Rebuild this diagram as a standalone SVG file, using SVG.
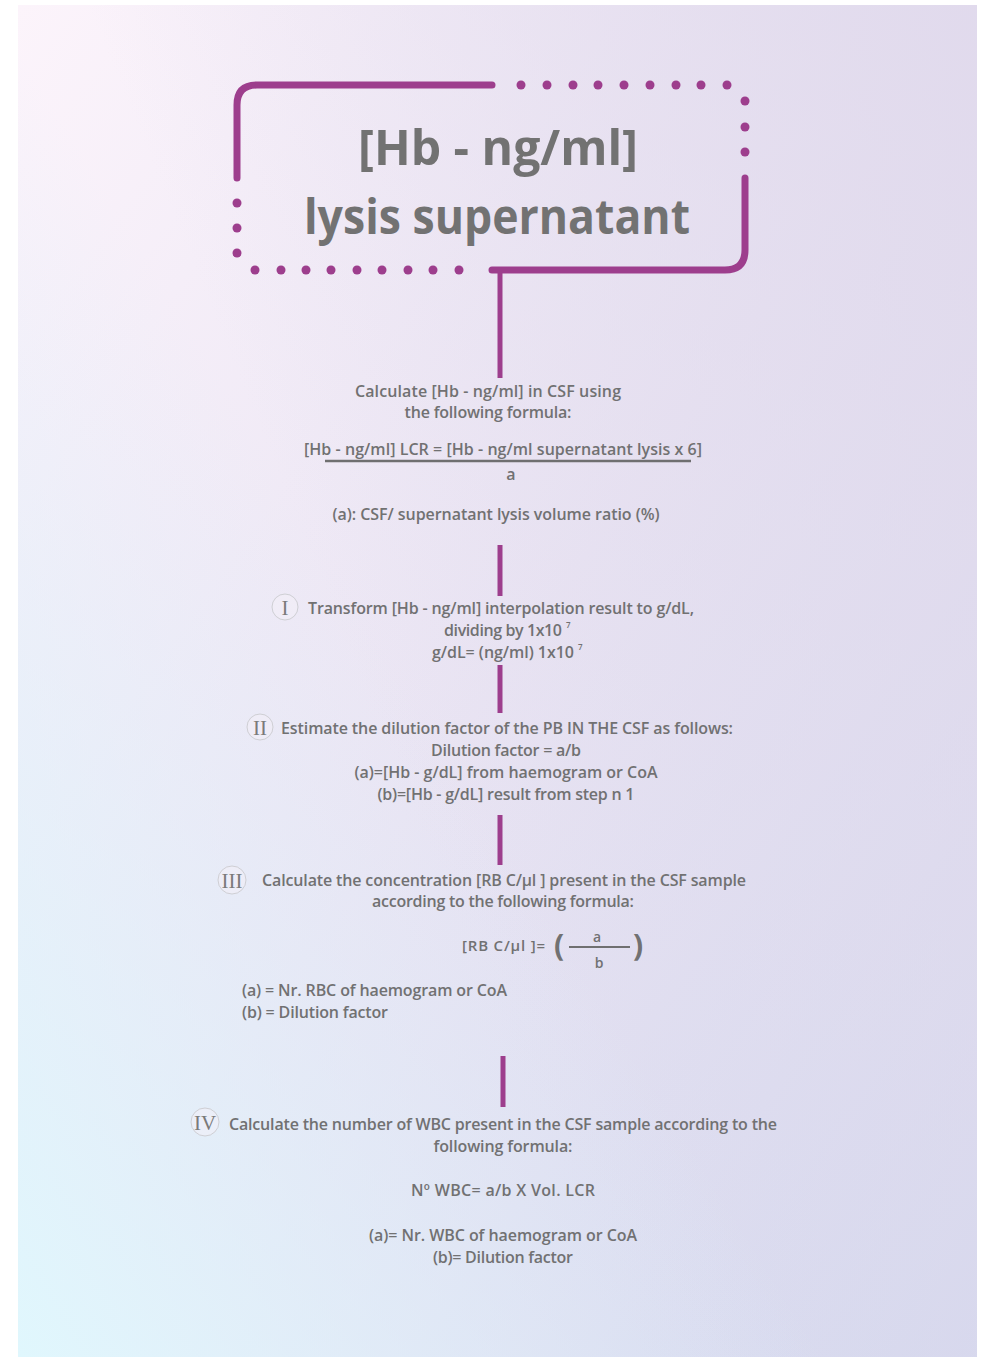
<svg xmlns="http://www.w3.org/2000/svg" width="982" height="1357" viewBox="0 0 982 1357">
<defs>
<linearGradient id="bg1" x1="0" y1="0" x2="1" y2="1">
<stop offset="0" stop-color="#fcf4fb"/>
<stop offset="0.5" stop-color="#e9e4f3"/>
<stop offset="1" stop-color="#d3d8ee"/>
</linearGradient>
<linearGradient id="bg2" x1="0" y1="1" x2="0.8" y2="0.3">
<stop offset="0" stop-color="#e0f7fd" stop-opacity="1"/>
<stop offset="0.6" stop-color="#e0f0fb" stop-opacity="0"/>
</linearGradient>
<linearGradient id="bg3" x1="1" y1="0" x2="0.3" y2="0.4">
<stop offset="0" stop-color="#e0d9ec" stop-opacity="0.9"/>
<stop offset="1" stop-color="#e0d9ec" stop-opacity="0"/>
</linearGradient>
<style>
.frame{fill:none;stroke:#9d3e8d;stroke-width:7;stroke-linecap:round;stroke-linejoin:round}
.dot{fill:#9d3e8d}
.conn{stroke:#9d3e8d;stroke-width:5;fill:none}
.t{font-family:"Open Sans","Liberation Sans",sans-serif;font-size:16px;font-weight:600;fill:#717172}
.title{font-family:"Open Sans","Liberation Sans",sans-serif;font-size:48px;font-weight:700;fill:#727272;text-anchor:middle}
.c{text-anchor:middle}
.num{font-family:"Liberation Serif","DejaVu Serif",serif;font-size:21px;fill:#7a7a7a;text-anchor:middle}
.ring{fill:#f4f0f7;fill-opacity:0.5;stroke:#cfcfd4;stroke-width:1}
.sup{font-size:8px}
.paren{font-size:30px;font-weight:700}
.small{font-size:14px}
.mid{font-size:15px}
</style>
</defs>
<rect x="0" y="0" width="982" height="1357" fill="#ffffff"/>
<rect x="18" y="5" width="959" height="1352" fill="url(#bg1)"/>
<rect x="18" y="5" width="959" height="1352" fill="url(#bg3)"/>
<rect x="18" y="5" width="959" height="1352" fill="url(#bg2)"/>

<g id="title-node">
<path class="frame" d="M237,178 V105 Q237,85 257,85 H492"/>
<path class="frame" d="M745,178 V250 Q745,270 725,270 H492"/>
<g class="dot">
<circle cx="521" cy="85" r="4.5"/><circle cx="547" cy="85" r="4.5"/><circle cx="573" cy="85" r="4.5"/><circle cx="598" cy="85" r="4.5"/><circle cx="624" cy="85" r="4.5"/><circle cx="650" cy="85" r="4.5"/><circle cx="676" cy="85" r="4.5"/><circle cx="701" cy="85" r="4.5"/><circle cx="727" cy="85" r="4.5"/>
<circle cx="745" cy="101" r="4.5"/><circle cx="745" cy="127" r="4.5"/><circle cx="745" cy="152" r="4.5"/>
<circle cx="237" cy="203" r="4.5"/><circle cx="237" cy="228" r="4.5"/><circle cx="237" cy="253" r="4.5"/>
<circle cx="255" cy="270" r="4.5"/><circle cx="281" cy="270" r="4.5"/><circle cx="306" cy="270" r="4.5"/><circle cx="331" cy="270" r="4.5"/><circle cx="357" cy="270" r="4.5"/><circle cx="382" cy="270" r="4.5"/><circle cx="408" cy="270" r="4.5"/><circle cx="433" cy="270" r="4.5"/><circle cx="459" cy="270" r="4.5"/>
</g>
<text class="title" x="498" y="165" textLength="280" lengthAdjust="spacingAndGlyphs">[Hb - ng/ml]</text>
<text class="title" x="497" y="234" textLength="386" lengthAdjust="spacingAndGlyphs">lysis supernatant</text>
</g>

<g id="connectors">
<line class="conn" x1="500" y1="273" x2="500" y2="378"/>
<line class="conn" x1="500" y1="545" x2="500" y2="596"/>
<line class="conn" x1="500" y1="665" x2="500" y2="713"/>
<line class="conn" x1="500" y1="815" x2="500" y2="865"/>
<line class="conn" x1="503" y1="1056" x2="503" y2="1107"/>
</g>

<g id="step-0">
<text class="t c" x="488" y="397" textLength="266">Calculate [Hb - ng/ml] in CSF using</text>
<text class="t c" x="488" y="418" textLength="167">the following formula:</text>
<text class="t c" x="503" y="455" textLength="398">[Hb - ng/ml] LCR = [Hb - ng/ml supernatant lysis x 6]</text>
<line x1="325" y1="461" x2="691" y2="461" stroke="#6f6f70" stroke-width="2.5"/>
<text class="t c" x="511" y="480">a</text>
<text class="t c" x="496" y="520" textLength="327">(a): CSF/ supernatant lysis volume ratio (%)</text>
</g>

<g id="step-1">
<circle class="ring" cx="285" cy="607" r="13"/>
<text class="num" x="285" y="615">I</text>
<text class="t" x="308" y="614" textLength="386">Transform [Hb - ng/ml] interpolation result to g/dL,</text>
<text class="t" x="444" y="636" textLength="118">dividing by 1x10</text>
<text class="t sup" x="566" y="628">7</text>
<text class="t" x="432" y="658" textLength="142">g/dL= (ng/ml) 1x10</text>
<text class="t sup" x="578" y="650">7</text>
</g>

<g id="step-2">
<circle class="ring" cx="260" cy="727" r="13"/>
<text class="num" x="260" y="735">II</text>
<text class="t" x="281" y="734" textLength="452">Estimate the dilution factor of the PB IN THE CSF as follows:</text>
<text class="t c" x="506" y="756" textLength="150">Dilution factor = a/b</text>
<text class="t c" x="506" y="778" textLength="303">(a)=[Hb - g/dL] from haemogram or CoA</text>
<text class="t c" x="506" y="800" textLength="257">(b)=[Hb - g/dL] result from step n 1</text>
</g>

<g id="step-3">
<circle class="ring" cx="232" cy="880" r="14"/>
<text class="num" x="232" y="888">III</text>
<text class="t" x="262" y="886" textLength="484">Calculate the concentration [RB C/µl ] present in the CSF sample</text>
<text class="t c" x="503" y="907" textLength="262">according to the following formula:</text>
<text class="t mid" x="462" y="951" textLength="83">[RB C/µl ]=</text>
<text class="t paren" x="554" y="956">(</text>
<text class="t paren" x="633" y="956">)</text>
<line x1="569" y1="947" x2="630" y2="947" stroke="#6f6f70" stroke-width="2"/>
<text class="t c small" x="597" y="942">a</text>
<text class="t c small" x="599" y="968">b</text>
<text class="t" x="242" y="996" textLength="265">(a) = Nr. RBC of haemogram or CoA</text>
<text class="t" x="242" y="1018" textLength="146">(b) =  Dilution factor</text>
</g>

<g id="step-4">
<circle class="ring" cx="205" cy="1122" r="14"/>
<text class="num" x="205" y="1130">IV</text>
<text class="t" x="229" y="1130" textLength="548">Calculate the number of WBC present in the CSF sample according to the</text>
<text class="t c" x="503" y="1152" textLength="139">following formula:</text>
<text class="t c" x="503" y="1196" textLength="184">Nº WBC= a/b X Vol. LCR</text>
<text class="t c" x="503" y="1241" textLength="268">(a)= Nr. WBC of haemogram or CoA</text>
<text class="t c" x="503" y="1263" textLength="140">(b)= Dilution factor</text>
</g>
</svg>
